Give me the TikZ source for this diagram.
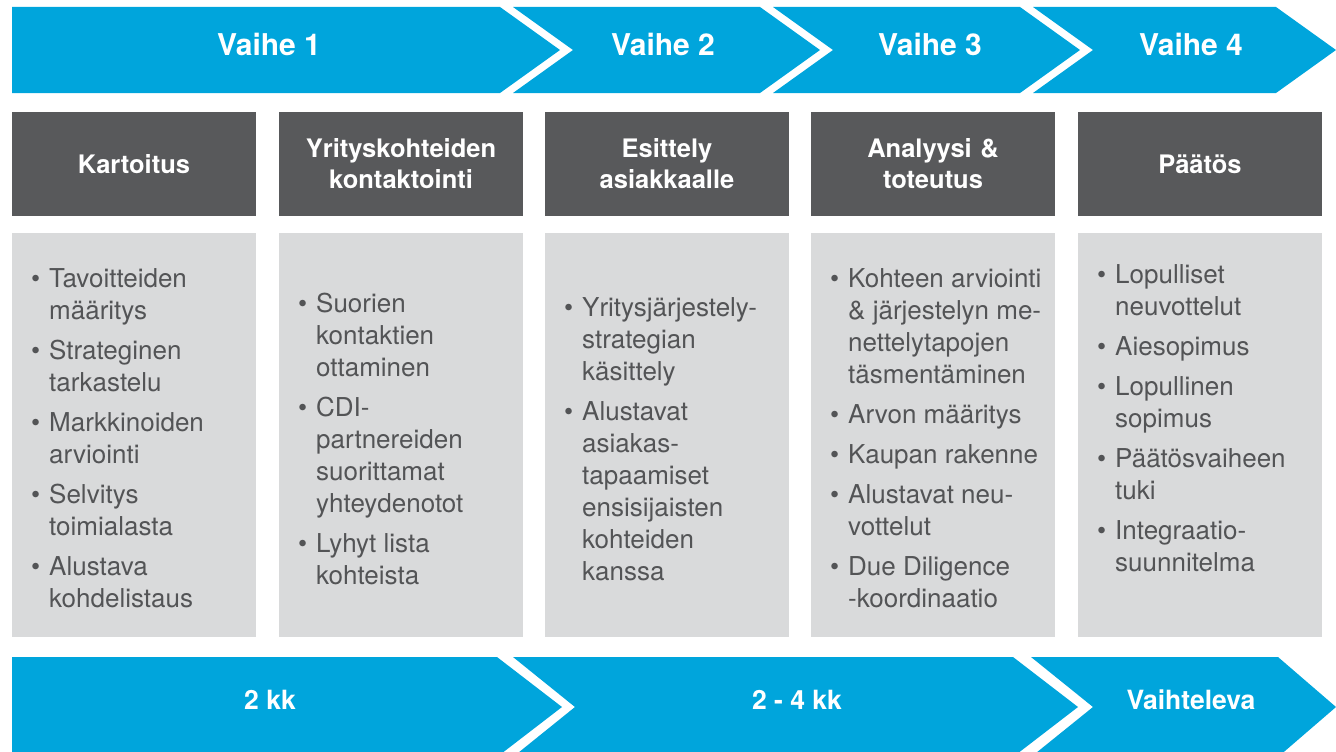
\documentclass[tikz,border=0pt]{standalone}
\usepackage{fontspec}
\setmainfont{TeX Gyre Heros}
\definecolor{phaseblue}{HTML}{00A5DC}
\definecolor{headgrey}{HTML}{58595B}
\definecolor{boxgrey}{HTML}{D9DADB}
\definecolor{itemgrey}{HTML}{535456}
\newcommand{\itm}{\llap{\textbullet\hspace{9pt}}}
\newcommand{\firstline}{\rule{0pt}{19pt}}

\begin{document}
\begin{tikzpicture}[x=1pt,y=-1pt,
    phase/.style={fill=phaseblue},
    phasetext/.style={text=white,font=\fontsize{30}{36}\selectfont\bfseries},
    timetext/.style={text=white,font=\fontsize{26.5}{32}\selectfont\bfseries},
    headbox/.style={fill=headgrey,text=white,minimum width=244,minimum height=104,inner sep=0pt,text width=234,align=center,font=\fontsize{25.5}{31}\selectfont\bfseries},
    listbox/.style={fill=boxgrey,minimum width=244,minimum height=404,inner sep=0pt},
    listtext/.style={anchor=north west,inner sep=0pt,align=left,text=itemgrey,font=\fontsize{26}{32}\selectfont}]
    \clip (0,0) rectangle (1336,752);
    \useasboundingbox (0,0) rectangle (1336,752);
    \fill[phase] (12,7) -- (500,7) -- (560,50) -- (500,93) -- (12,93) -- cycle;
    \fill[phase] (513,7) -- (760,7) -- (820,50) -- (760,93) -- (513,93) -- (573,50) -- cycle;
    \fill[phase] (773,7) -- (1020,7) -- (1080,50) -- (1020,93) -- (773,93) -- (833,50) -- cycle;
    \fill[phase] (1033,7) -- (1276,7) -- (1336,50) -- (1276,93) -- (1033,93) -- (1093,50) -- cycle;
    \node[phasetext] (vaihe1) at (269,44) {Vaihe 1};
    \node[phasetext] (vaihe2) at (663,44) {Vaihe 2};
    \node[phasetext] (vaihe3) at (930,44) {Vaihe 3};
    \node[phasetext] (vaihe4) at (1191,44) {Vaihe 4};
    \node[headbox] (kartoitus) at (134,164) {Kartoitus};
    \node[headbox] (kontaktointi) at (401,164) {Yrityskohteiden\\kontaktointi};
    \node[headbox] (esittely) at (667,164) {Esittely\\asiakkaalle};
    \node[headbox] (analyysi) at (933,164) {Analyysi \&\\toteutus};
    \node[headbox] (paatos) at (1200,164) {Päätös};
    \node[listbox] (box1) at (134,435) {};
    \node[listbox] (box2) at (401,435) {};
    \node[listbox] (box3) at (667,435) {};
    \node[listbox] (box4) at (933,435) {};
    \node[listbox] (box5) at (1200,435) {};
    \node[listtext] (list1) at (49,268.4) {\firstline\itm Tavoitteiden\\määritys\\[8pt]\itm Strateginen\\tarkastelu\\[8pt]\itm Markkinoiden\\arviointi\\[8pt]\itm Selvitys\\toimialasta\\[8pt]\itm Alustava\\kohdelistaus};
    \node[listtext] (list2) at (316,292.4) {\firstline\itm Suorien\\kontaktien\\ottaminen\\[8pt]\itm CDI-\\partnereiden\\suorittamat\\yhteydenotot\\[8pt]\itm Lyhyt lista\\kohteista};
    \node[listtext] (list3) at (582,297.4) {\firstline\itm Yritysjärjestely-\\strategian\\käsittely\\[8pt]\itm Alustavat\\asiakas-\\tapaamiset\\ensisijaisten\\kohteiden\\kanssa};
    \node[listtext] (list4) at (848,268.4) {\firstline\itm Kohteen arviointi\\\& järjestelyn me-\\nettelytapojen\\täsmentäminen\\[8pt]\itm Arvon määritys\\[8pt]\itm Kaupan rakenne\\[8pt]\itm Alustavat neu-\\vottelut\\[8pt]\itm Due Diligence\\-koordinaatio};
    \node[listtext] (list5) at (1115,264.4) {\firstline\itm Lopulliset\\neuvottelut\\[8pt]\itm Aiesopimus\\[8pt]\itm Lopullinen\\sopimus\\[8pt]\itm Päätösvaiheen\\tuki\\[8pt]\itm Integraatio-\\suunnitelma};
    \fill[phase] (12,657) -- (497,657) -- (562,707) -- (497,757) -- (12,757) -- cycle;
    \fill[phase] (513,657) -- (1013,657) -- (1078,707) -- (1013,757) -- (513,757) -- (575,707) -- cycle;
    \fill[phase] (1031,657) -- (1278,657) -- (1336,707) -- (1278,757) -- (1031,757) -- (1093,707) -- cycle;
    \node[timetext] (kk2) at (270,700) {2 kk};
    \node[timetext] (kk24) at (797,700) {2 - 4 kk};
    \node[timetext] (vaihteleva) at (1191,700) {Vaihteleva};
\end{tikzpicture}
\end{document}
